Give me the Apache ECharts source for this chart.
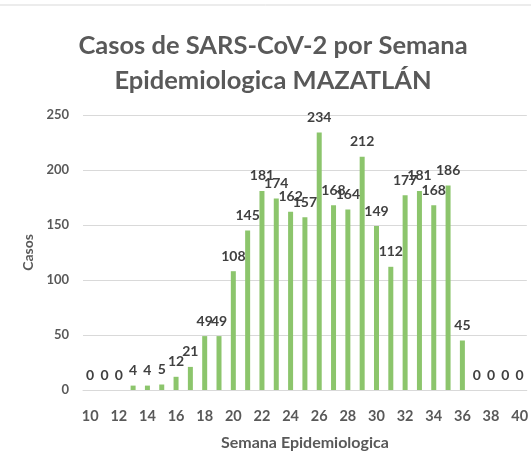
<!DOCTYPE html>
<html>
<head>
<meta charset="utf-8">
<script src="https://cdn.jsdelivr.net/npm/echarts@6/dist/echarts.min.js"></script>
<style>
  html, body { margin: 0; padding: 0; background: #fff; }
  #chart { width: 531px; height: 471px; }
</style>
</head>
<body>
<div id="chart"></div>
<script>
// Epidemiological weeks 10–40
const weeks = ['10','11','12','13','14','15','16','17','18','19','20','21','22','23','24','25',
               '26','27','28','29','30','31','32','33','34','35','36','37','38','39','40'];
// Confirmed cases per week
const cases = [0, 0, 0, 4, 4, 5, 12, 21, 49, 49, 108, 145, 181, 174, 162, 157,
               234, 168, 164, 212, 149, 112, 177, 181, 168, 186, 45, 0, 0, 0, 0];

const FONT = 'Lato, "Open Sans", sans-serif';

const chart = echarts.init(document.getElementById('chart'), null, { renderer: 'canvas' });
chart.setOption({
  backgroundColor: '#ffffff',
  animation: false,
  title: {
    text: 'Casos de SARS-CoV-2 por Semana\nEpidemiologica MAZATLÁN',
    left: 268,
    top: 23,
    textAlign: 'center',
    textStyle: {
      fontFamily: FONT,
      fontSize: 25.5,
      fontWeight: 'bold',
      color: '#595959',
      lineHeight: 35
    }
  },
  graphic: [{
    type: 'line',
    shape: { x1: 0, y1: 5, x2: 531, y2: 5 },
    style: { stroke: '#d9d9d9', lineWidth: 1 }
  }],
  grid: { left: 83, right: 0, top: 115, bottom: 81 },
  xAxis: {
    type: 'category',
    data: weeks,
    name: 'Semana Epidemiologica',
    nameLocation: 'middle',
    nameGap: 45,
    nameTextStyle: { fontFamily: FONT, fontSize: 16, fontWeight: 'bold', color: '#595959' },
    axisLine: { show: true, lineStyle: { color: '#d9d9d9' } },
    axisTick: { show: false },
    axisLabel: {
      interval: 1,
      margin: 19,
      fontFamily: FONT,
      fontSize: 14.5,
      fontWeight: 'bold',
      color: '#595959'
    }
  },
  yAxis: {
    type: 'value',
    min: 0,
    max: 250,
    interval: 50,
    name: 'Casos',
    nameLocation: 'middle',
    nameGap: 46,
    nameTextStyle: { fontFamily: FONT, fontSize: 14, fontWeight: 'bold', color: '#595959' },
    axisLine: { show: false },
    axisTick: { show: false },
    splitLine: { lineStyle: { color: '#d9d9d9', width: 1 } },
    axisLabel: {
      margin: 14,
      fontFamily: FONT,
      fontSize: 13,
      fontWeight: 'bold',
      color: '#595959'
    }
  },
  series: [{
    type: 'bar',
    data: cases,
    barWidth: 5,
    itemStyle: { color: '#8cc56c' },
    label: {
      show: true,
      position: 'top',
      distance: 8,
      fontFamily: FONT,
      fontSize: 14,
      fontWeight: 'bold',
      color: '#404040'
    }
  }]
});
</script>
</body>
</html>
